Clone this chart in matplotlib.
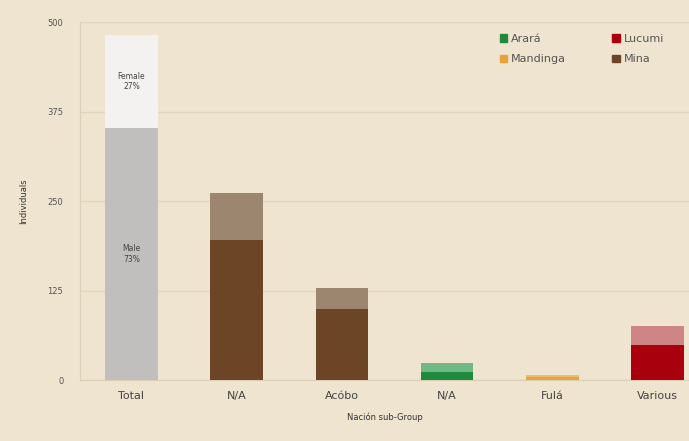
import numpy as np
import matplotlib.pyplot as plt
from matplotlib.patches import Patch

categories = ["Total", "N/A", "Acóbo", "N/A", "Fulá", "Various"]
male = [352, 196, 100, 11, 4, 49]
female = [130, 65, 28, 13, 3, 26]
dark_colors = ["#c0bfbd", "#6c4526", "#6c4526", "#1f8a3c", "#e9a23c", "#a8000d"]
light_colors = ["#f3f2f0", "#9d8670", "#9d8670", "#6fba84", "#f0bb74", "#cf8485"]
legend_names = ["Arará", "Mandinga", "Lucumi", "Mina"]
legend_colors = ["#1f8a3c", "#e9a23c", "#a8000d", "#6c4526"]

bg = "#efe4cf"
fig = plt.figure(figsize=(6.89, 4.41), dpi=100, facecolor=bg)
ax = fig.add_axes([0.116, 0.138, 0.884, 0.812], facecolor=bg)

x = np.arange(len(categories))
ax.bar(x, male, width=0.5, color=dark_colors, zorder=3)
ax.bar(x, female, width=0.5, bottom=male, color=light_colors, zorder=3)

# labels inside the total bar
tot = male[0] + female[0]
ax.text(0, male[0] + female[0] / 2, "Female\n%d%%" % round(100 * female[0] / tot),
        ha="center", va="center", fontsize=5.5, color="#444444", zorder=4)
ax.text(0, male[0] / 2, "Male\n%d%%" % round(100 * male[0] / tot),
        ha="center", va="center", fontsize=5.5, color="#444444", zorder=4)

ax.set_ylim(0, 500)
ax.set_yticks([0, 125, 250, 375, 500])
ax.set_xlim(-0.49, 5.3)
ax.set_xticks(x)
ax.set_xticklabels(categories, fontsize=8, color="#444444")
ax.tick_params(axis="y", labelsize=6, colors="#555555", length=0, pad=12)
ax.tick_params(axis="x", length=0, pad=8)
ax.grid(axis="y", color="#e2d5bd", linewidth=1, zorder=0)
for s in ["top", "right"]:
    ax.spines[s].set_visible(False)
ax.spines["left"].set_color("#dccfb6")
ax.spines["bottom"].set_color("#dccfb6")

ax.set_ylabel("Individuals", fontsize=6, color="#333333", labelpad=14)
ax.set_xlabel("Nación sub-Group", fontsize=6, color="#333333", labelpad=8)

handles = [Patch(color=c, label=n) for n, c in zip(legend_names, legend_colors)]
ax.legend(handles=handles, ncol=2, frameon=False, loc="upper right",
          bbox_to_anchor=(0.975, 0.995), fontsize=8, handlelength=0.7,
          handleheight=0.7, handletextpad=0.3, columnspacing=4.2,
          labelspacing=0.95, labelcolor="#555555")

fig.savefig("out.png", dpi=100, facecolor=bg)
